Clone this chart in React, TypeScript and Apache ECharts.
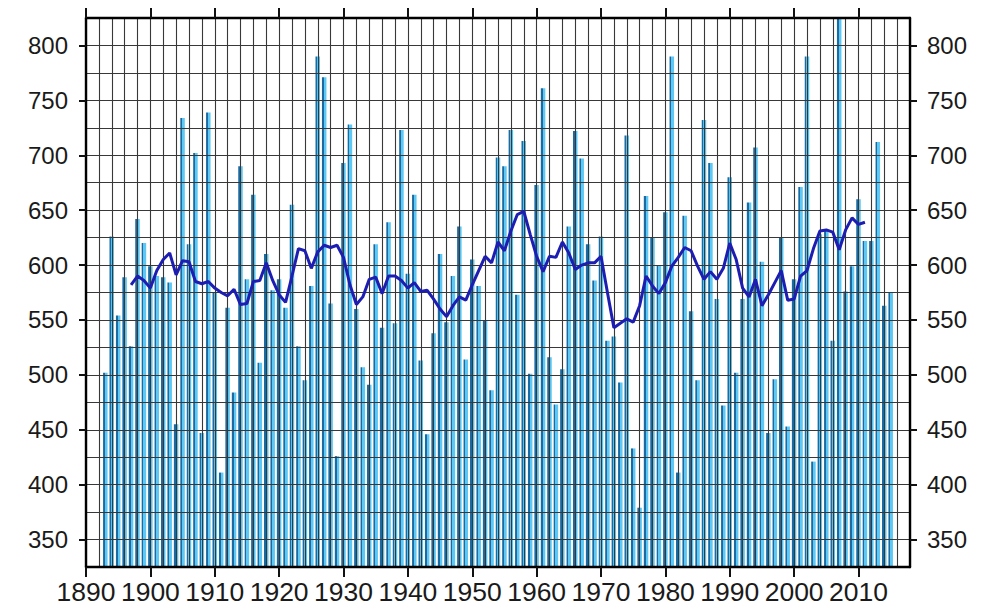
import React, { useEffect, useRef } from "react";
import * as echarts from "echarts";

const FIRST_YEAR = 1893;
const annualValues = [
  502, 626, 554, 589, 526, 642, 620, 599, 590, 589,
  584, 455, 734, 619, 702, 447, 739, 575, 411, 561,
  484, 690, 587, 664, 511, 610, 577, 587, 561, 655,
  526, 495, 581, 790, 771, 565, 426, 693, 728, 560,
  507, 491, 619, 543, 639, 547, 723, 592, 664, 513,
  446, 538, 610, 548, 590, 635, 514, 605, 581, 550,
  486, 698, 690, 723, 573, 713, 501, 673, 761, 516,
  473, 505, 635, 722, 697, 619, 586, 626, 531, 535,
  493, 718, 433, 379, 663, 625, 600, 648, 790, 411,
  645, 558, 495, 732, 693, 569, 472, 680, 502, 569,
  657, 707, 603, 447, 496, 625, 453, 587, 671, 790,
  421, 628, 632, 531, 845, 576, 599, 660, 622, 622,
  712, 563, 575,
];

const SMOOTH_FIRST_YEAR = 1897;
const smoothedValues = [
  582, 590, 586, 579, 595, 605, 611, 591, 604, 603,
  585, 583, 585, 579, 575, 572, 578, 564, 565, 585,
  586, 602, 586, 573, 566, 590, 615, 613, 597, 612,
  618, 616, 618, 607, 582, 564, 571, 587, 589, 574,
  590, 590, 586, 579, 584, 576, 577, 569, 560, 553,
  563, 571, 568, 582, 595, 608, 602, 621, 613, 631,
  646, 649, 628, 608, 594, 608, 607, 621, 611, 596,
  600, 602, 602, 608, 575, 543, 547, 551, 548, 563,
  590, 581, 574, 584, 599, 607, 616, 613, 599, 587,
  594, 587, 597, 620, 605, 579, 571, 587, 563, 573,
  584, 595, 568, 569, 590, 595, 615, 631, 632, 630,
  614, 632, 643, 637, 639,
];

const xTickLabels = [1890, 1900, 1910, 1920, 1930, 1940, 1950, 1960, 1970, 1980, 1990, 2000, 2010];
const yTickLabels = [350, 400, 450, 500, 550, 600, 650, 700, 750, 800];

const X_MIN = 1890;
const X_MAX = 2018;
const Y_MIN = 325;
const Y_MAX = 825;

// plot box in pixels
const G_LEFT = 86;
const G_RIGHT = 83;
const G_TOP = 18;
const G_BOTTOM = 45;

export default function App() {
  const ref = useRef<HTMLDivElement>(null);

  useEffect(() => {
    if (!ref.current) return;
    const chart = echarts.init(ref.current, null, { renderer: "svg" });

    const W = 993;
    const H = 612;
    const plotW = W - G_LEFT - G_RIGHT;
    const plotH = H - G_TOP - G_BOTTOM;
    const pxPerYear = plotW / (X_MAX - X_MIN);
    const pxPerUnit = plotH / (Y_MAX - Y_MIN);
    const xFirst = xTickLabels[0];
    const xLast = xTickLabels[xTickLabels.length - 1];
    const yFirst = yTickLabels[0];
    const yLast = yTickLabels[yTickLabels.length - 1];

    const barData = annualValues.map((v, i) => [FIRST_YEAR + i, v]);
    const lineData = smoothedValues.map((v, i) => [SMOOTH_FIRST_YEAR + i, v]);

    const labelFont = { color: "#1a1a1a", fontFamily: "Liberation Sans" };
    const axisLineStyle = { show: true, onZero: false, lineStyle: { color: "#000", width: 2.4 } };
    const tickStyle = { color: "#111", width: 2 };
    const gridLine = { show: true, lineStyle: { color: "#383838", width: 1.1 } };
    const plain = (v: number) => String(Math.round(v));

    const option: any = {
      animation: false,
      backgroundColor: "#fff",
      grid: [
        { left: G_LEFT, right: G_RIGHT, top: G_TOP, bottom: G_BOTTOM, containLabel: false },
        {
          left: G_LEFT + (xFirst - X_MIN) * pxPerYear,
          right: G_RIGHT + (X_MAX - xLast) * pxPerYear,
          top: G_TOP,
          bottom: G_BOTTOM,
          containLabel: false,
        },
        {
          left: G_LEFT,
          right: G_RIGHT,
          top: G_TOP + (Y_MAX - yLast) * pxPerUnit,
          bottom: G_BOTTOM + (yFirst - Y_MIN) * pxPerUnit,
          containLabel: false,
        },
      ],
      xAxis: [
        {
          gridIndex: 0, type: "value", min: X_MIN, max: X_MAX, interval: 2, position: "bottom", z: 3,
          axisLine: axisLineStyle, axisTick: { show: false }, axisLabel: { show: false }, splitLine: gridLine,
        },
        {
          gridIndex: 0, type: "value", min: X_MIN, max: X_MAX, interval: 2, position: "top", z: 6,
          axisLine: axisLineStyle, axisTick: { show: false }, axisLabel: { show: false }, splitLine: { show: false },
        },
        {
          gridIndex: 1, type: "value", min: xFirst, max: xLast, interval: 10, position: "bottom", z: 6,
          axisLine: { show: false },
          axisTick: { show: true, inside: false, length: 10, lineStyle: tickStyle },
          axisLabel: {
            show: true, fontSize: 26.5, margin: 11, formatter: plain,
            showMinLabel: true, showMaxLabel: true, hideOverlap: false, ...labelFont,
          },
          splitLine: { show: false },
        },
        {
          gridIndex: 1, type: "value", min: xFirst, max: xLast, interval: 10, position: "top", z: 6,
          axisLine: { show: false },
          axisTick: { show: true, inside: false, length: 10, lineStyle: tickStyle },
          axisLabel: { show: false },
          splitLine: { show: false },
        },
        { gridIndex: 2, type: "value", min: X_MIN, max: X_MAX, show: false },
      ],
      yAxis: [
        {
          gridIndex: 0, type: "value", min: Y_MIN, max: Y_MAX, interval: 25, position: "left", z: 3,
          axisLine: axisLineStyle, axisTick: { show: false }, axisLabel: { show: false }, splitLine: gridLine,
        },
        {
          gridIndex: 0, type: "value", min: Y_MIN, max: Y_MAX, interval: 25, position: "right", z: 6,
          axisLine: axisLineStyle, axisTick: { show: false }, axisLabel: { show: false }, splitLine: { show: false },
        },
        { gridIndex: 1, type: "value", min: Y_MIN, max: Y_MAX, show: false },
        {
          gridIndex: 2, type: "value", min: yFirst, max: yLast, interval: 50, position: "left", z: 6,
          axisLine: { show: false },
          axisTick: { show: true, inside: false, length: 7, lineStyle: tickStyle },
          axisLabel: {
            show: true, fontSize: 24, margin: 18, formatter: plain,
            showMinLabel: true, showMaxLabel: true, ...labelFont,
          },
          splitLine: { show: false },
        },
        {
          gridIndex: 2, type: "value", min: yFirst, max: yLast, interval: 50, position: "right", z: 6,
          axisLine: { show: false },
          axisTick: { show: true, inside: false, length: 7, lineStyle: tickStyle },
          axisLabel: {
            show: true, fontSize: 24, margin: 17, formatter: plain,
            showMinLabel: true, showMaxLabel: true, ...labelFont,
          },
          splitLine: { show: false },
        },
      ],
      series: [
        {
          type: "bar",
          xAxisIndex: 0,
          yAxisIndex: 0,
          data: barData,
          barWidth: 4.5,
          z: 2,
          clip: true,
          itemStyle: {
            color: new echarts.graphic.LinearGradient(0, 0, 1, 0, [
              { offset: 0, color: "#1c6aa2" },
              { offset: 0.38, color: "#1c6aa2" },
              { offset: 0.38, color: "#5cc8f3" },
              { offset: 1, color: "#5cc8f3" },
            ]),
          },
        },
        {
          type: "line",
          xAxisIndex: 0,
          yAxisIndex: 0,
          data: lineData,
          showSymbol: false,
          symbol: "none",
          z: 5,
          lineStyle: { color: "#1d1db2", width: 3 },
        },
      ],
    };

    chart.setOption(option);
    return () => chart.dispose();
  }, []);

  return (
    <div
      ref={ref}
      style={{ position: "absolute", left: 0, top: 0, width: 993, height: 612, background: "#fff" }}
    />
  );
}
